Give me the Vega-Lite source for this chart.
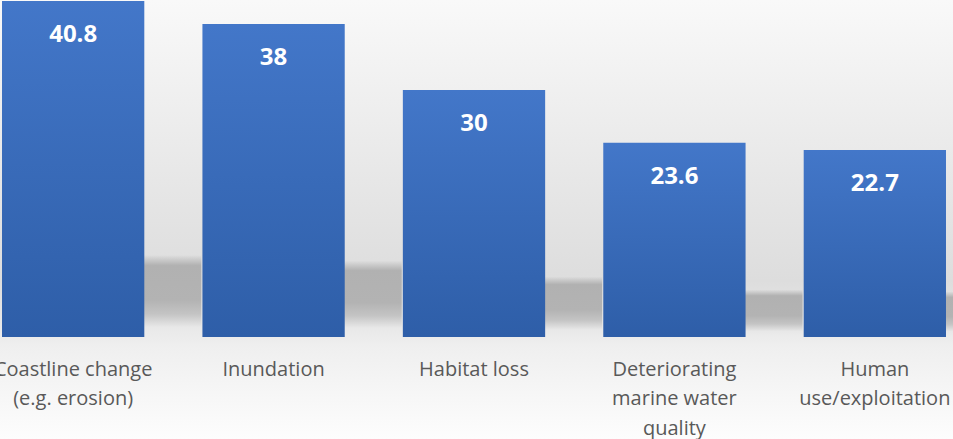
{
  "$schema": "https://vega.github.io/schema/vega-lite/v6.json",
  "width": 953,
  "height": 439,
  "autosize": {"type": "none"},
  "padding": {"left": 0, "top": 0, "right": 0, "bottom": 0},
  "background": "#f4f4f4",
  "config": {
    "view": {
      "stroke": null,
      "fill": {
        "gradient": "linear", "x1": 0, "y1": 0, "x2": 0, "y2": 1,
        "stops": [
          {"offset": 0, "color": "#f9f9f9"},
          {"offset": 0.41, "color": "#e7e7e7"},
          {"offset": 0.64, "color": "#dddddd"},
          {"offset": 0.72, "color": "#e6e6e6"},
          {"offset": 0.77, "color": "#ececec"},
          {"offset": 0.79, "color": "#efefef"},
          {"offset": 1, "color": "#fdfdfd"}
        ]
      }
    }
  },
  "data": {
    "values": [
      {"category": "Coastline change|(e.g. erosion)", "value": 40.8},
      {"category": "Inundation", "value": 38},
      {"category": "Habitat loss", "value": 30},
      {"category": "Deteriorating|marine water|quality", "value": 23.6},
      {"category": "Human|use/exploitation", "value": 22.7}
    ]
  },
  "encoding": {
    "x": {
      "field": "category", "type": "nominal", "sort": null,
      "scale": {"paddingInner": 0.29, "paddingOuter": 0.01, "range": [0, 948]},
      "axis": {
        "title": null, "domain": false, "ticks": false, "labelAngle": 0,
        "offset": -102,
        "labelExpr": "split(datum.label, '|')",
        "labelFont": "Open Sans", "labelFontSize": 20, "labelColor": "#595959",
        "labelPadding": 22, "labelLineHeight": 29.5, "labelOverlap": false,
        "labelBound": false, "labelFlush": false
      }
    }
  },
  "layer": [
    {
      "mark": {
        "type": "bar", "xOffset": 57,
        "fill": {
          "gradient": "linear", "x1": 0, "y1": 0, "x2": 0, "y2": 1,
          "stops": [
            {"offset": 0, "color": "rgba(176,176,176,0)"},
            {"offset": 0.13, "color": "#b1b1b1"},
            {"offset": 0.55, "color": "#b3b3b3"},
            {"offset": 0.72, "color": "#c4c4c4"},
            {"offset": 0.88, "color": "#e8e8e8"},
            {"offset": 1, "color": "#ececec"}
          ]
        }
      },
      "encoding": {
        "y": {"field": "value", "type": "quantitative", "scale": {"domain": [-50.75, 167.68], "nice": false, "zero": false}, "axis": null}
      }
    },
    {
      "mark": {
        "type": "bar",
        "fill": {
          "gradient": "linear", "x1": 0, "y1": 0, "x2": 0, "y2": 1,
          "stops": [
            {"offset": 0, "color": "#4377c9"},
            {"offset": 1, "color": "#2e5ea8"}
          ]
        }
      },
      "encoding": {
        "y": {"field": "value", "type": "quantitative", "scale": {"domain": [-12.385, 40.92], "nice": false, "zero": false}, "axis": null}
      }
    },
    {
      "mark": {"type": "text", "baseline": "middle", "dy": 34, "font": "Open Sans", "fontSize": 24, "fontWeight": "bold", "color": "#ffffff"},
      "encoding": {
        "y": {"field": "value", "type": "quantitative", "scale": {"domain": [-12.385, 40.92], "nice": false, "zero": false}, "axis": null},
        "text": {"field": "value", "type": "quantitative"}
      }
    }
  ],
  "resolve": {"scale": {"y": "independent"}}
}
